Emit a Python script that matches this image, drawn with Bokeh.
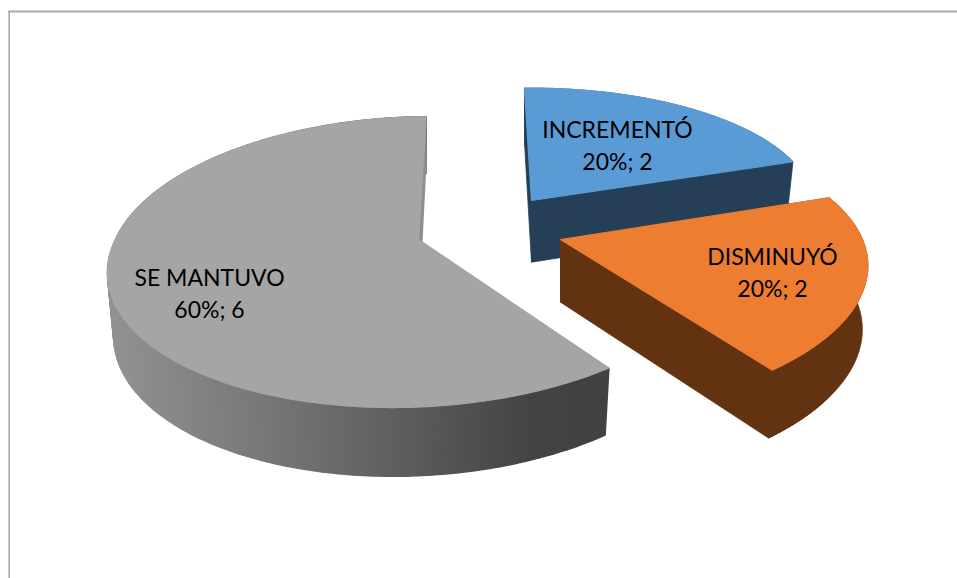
import math
from bokeh.plotting import figure
from bokeh.models import Range1d
from bokeh.core.properties import value
from bokeh.embed import file_html
from bokeh.resources import INLINE

categories = ["INCREMENTÓ", "DISMINUYÓ", "SE MANTUVO"]
values = [2, 2, 6]
top_colors = ["#5b9bd5", "#ed7d31", "#a5a5a5"]
wall_colors = ["#243f56", "#633211", "#555555"]

# layout of each exploded slice, page pixels
apex = [(531, 200), (560, 239), (418, 239)]
rx = [282, 302, 303]
ry = [118, 134.6, 142]
persp = [0.05, 0.23, 0.155]
skew_low = [0.0, 0.10, 0.155]
skew_up = [0.0, 0.10, 0.118]
depth = [61.7, 62.7, 62]
side_x = [0.975, 0.982, 0.98]
label_pos = [(617, 128, 160), (772, 255, 287), (209, 276, 308)]
START = 91.5
SY = 1.04
gray_stops = [(110, 0x92), (250, 0x7a), (400, 0x5e), (530, 0x44), (610, 0x42)]

p = figure(width=957, height=578, output_backend="svg", toolbar_location=None,
           x_range=Range1d(0, 957), y_range=Range1d(578, 0), min_border=0,
           outline_line_color=None, background_fill_color="white")
p.axis.visible = False
p.grid.visible = False
p.xaxis.visible = False
p.yaxis.visible = False

frame = "#a8a8a8"
p.line([8.7, 8.7], [10.5, 578], line_color=frame, line_width=1.6)
p.line([8, 957], [11, 11], line_color=frame, line_width=1.8)


def rel(i, deg):
    a = math.radians(deg)
    w = 1 + persp[i] * math.sin(a)
    Y = ry[i] * math.sin(a) / w
    s = skew_up[i] if Y > 0 else skew_low[i]
    X = rx[i] * math.cos(a) / w + s * Y
    return X, Y


def top_pt(i, deg):
    X, Y = rel(i, deg)
    return apex[i][0] + X, apex[i][1] - Y


def bot_pt(i, deg):
    X, Y = rel(i, deg)
    return apex[i][0] + side_x[i] * X, apex[i][1] + depth[i] - SY * Y


def gray_level(x):
    for (x0, c0), (x1, c1) in zip(gray_stops, gray_stops[1:]):
        if x <= x1:
            t = max(0, (x - x0) / (x1 - x0))
            return int(c0 + (c1 - c0) * t)
    return gray_stops[-1][1]


total = sum(values)
spans = []
cur = START
for v in values:
    spans.append((cur, cur - 360 * v / total))
    cur -= 360 * v / total


def draw_slice(i):
    s, e = spans[i]
    n = 250
    degs = [s + (e - s) * k / n for k in range(n + 1)]
    ax, ay = apex[i]
    bx, by = ax, ay + depth[i]
    if i == 2:
        # gradient outer wall, back strip
        xs, ys, cs = [], [], []
        for d0, d1 in zip(degs, degs[1:]):
            a, b, c, d = top_pt(i, d0), top_pt(i, d1), bot_pt(i, d1), bot_pt(i, d0)
            xs.append([a[0], b[0], c[0], d[0]])
            ys.append([a[1], b[1], c[1], d[1]])
            g = gray_level((a[0] + b[0]) / 2)
            cs.append(f"#{g:02x}{g:02x}{g:02x}")
        p.patches(xs, ys, fill_color=cs, line_color=cs, line_width=1.5)
        t, b = top_pt(i, e), bot_pt(i, e)
        p.patch([t[0], b[0], ax + 4, ax], [t[1], b[1], ay + 3, ay],
                fill_color="#8e8e8e", line_color=None)
    else:
        wall = wall_colors[i]
        # left cut face
        t, b = top_pt(i, s), bot_pt(i, s)
        p.patch([ax, t[0], b[0], bx], [ay, t[1], b[1], by],
                fill_color=wall, line_color=wall, line_width=0.8)
        # outer wall
        wx = [top_pt(i, d)[0] for d in degs] + [bot_pt(i, d)[0] for d in reversed(degs)]
        wy = [top_pt(i, d)[1] for d in degs] + [bot_pt(i, d)[1] for d in reversed(degs)]
        p.patch(wx, wy, fill_color=wall, line_color=wall, line_width=0.8)
        # front cut face, lapping over the end of the outer wall so no seam shows
        lap = degs[-60:]
        rim = [top_pt(i, d) for d in reversed(lap)]
        low = [bot_pt(i, d) for d in lap]
        pts = [(ax, ay)] + rim + low + [(bx, by)]
        p.patch([q[0] for q in pts], [q[1] for q in pts],
                fill_color=wall, line_color=wall, line_width=0.8)
    tx = [ax] + [top_pt(i, d)[0] for d in degs]
    ty = [ay] + [top_pt(i, d)[1] for d in degs]
    p.patch(tx, ty, fill_color=top_colors[i], line_color=top_colors[i], line_width=1.2)


for i in (0, 2, 1):
    draw_slice(i)

for i, cat in enumerate(categories):
    cx, y1, y2 = label_pos[i]
    pct = round(100 * values[i] / total)
    for txt, y in ((cat, y1), (f"{pct}%; {values[i]}", y2)):
        p.text([cx], [y], text=[txt], text_align="center", text_baseline="middle",
               text_font=value("Lato"), text_font_size="23px", text_color="#000000")

open("out.html", "w").write(file_html(p, INLINE))
